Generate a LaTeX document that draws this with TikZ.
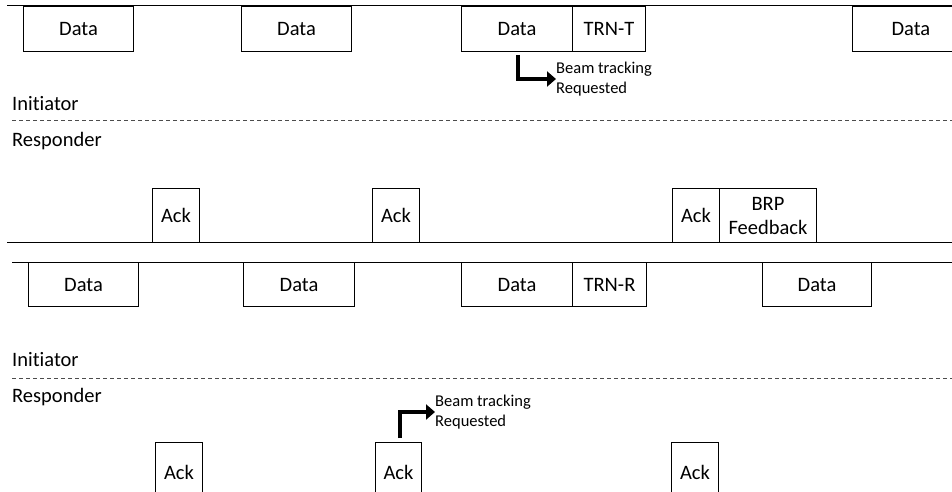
\documentclass[tikz,border=0pt]{standalone}
\usepackage{fontspec}
\setmainfont{Carlito}[Ligatures=NoCommon]
\usetikzlibrary{arrows.meta}
\begin{document}
\begin{tikzpicture}[x=1pt,y=-1pt,
  frame/.style={draw=black,line width=1pt,inner sep=0pt,anchor=north west,font=\fontsize{20.5}{24}\selectfont},
  lbl/.style={anchor=west,inner sep=0pt,font=\fontsize{20.5}{24}\selectfont},
  small/.style={anchor=west,inner sep=0pt,align=left,font=\fontsize{16.5}{19.5}\selectfont},
  axis/.style={line width=1pt},
  sep/.style={line width=0.8pt,dash pattern=on 4pt off 3pt,draw=black!70},
  bigarrow/.style={line width=3.2pt,-{Triangle[length=9pt,width=15pt]}}]
\clip (0,0) rectangle (952,492);
% ---------- top panel ----------
\draw[axis] (7,6) -- (952,6);
\node[frame,minimum width=110pt,minimum height=45pt] (d1) at (23,6) {Data};
\node[frame,minimum width=110pt,minimum height=45pt] (d2) at (241,6) {Data};
\node[frame,minimum width=111pt,minimum height=45pt] (d3) at (461,6) {Data};
\node[frame,minimum width=73pt,minimum height=45pt] (t1) at (572,6) {TRN-T};
\node[frame,minimum width=110pt,minimum height=45pt,text width=100pt,align=left] (d4) at (852,6) {\hspace*{34pt}Data};
\coordinate (a1) at (518,55);
\node[small] (bt1) at (556,79) {Beam tracking\\Requested};
\draw[bigarrow] (a1) |- (bt1.west);
\node[lbl] (i1) at (12,104) {Initiator};
\draw[sep] (12,120) -- (952,120);
\node[lbl] (r1) at (12,141) {Responder};
\node[frame,minimum width=47pt,minimum height=54pt] (k1) at (152,188) {Ack};
\node[frame,minimum width=47pt,minimum height=54pt] (k2) at (372,188) {Ack};
\node[frame,minimum width=47pt,minimum height=54pt] (k3) at (672,188) {Ack};
\node[frame,minimum width=97pt,minimum height=54pt,align=center] (f1) at (719,188) {BRP\\Feedback};
\draw[axis] (7,242) -- (952,242);
% ---------- bottom panel ----------
\draw[axis] (12,262) -- (952,262);
\node[frame,minimum width=110pt,minimum height=44pt] (e1) at (28,262) {Data};
\node[frame,minimum width=111pt,minimum height=44pt] (e2) at (243,262) {Data};
\node[frame,minimum width=111pt,minimum height=44pt] (e3) at (461,262) {Data};
\node[frame,minimum width=74pt,minimum height=44pt] (t2) at (572,262) {TRN-R};
\node[frame,minimum width=109pt,minimum height=44pt] (e4) at (762,262) {Data};
\node[lbl] (i2) at (12,360) {Initiator};
\draw[sep] (12,378) -- (952,378);
\node[lbl] (r2) at (12,397) {Responder};
\node[frame,minimum width=47pt,minimum height=70pt,text depth=10pt] (m1) at (155,442) {Ack};
\node[frame,minimum width=46pt,minimum height=70pt,text depth=10pt] (m2) at (375,442) {Ack};
\node[frame,minimum width=47pt,minimum height=70pt,text depth=10pt] (m3) at (671,442) {Ack};
\coordinate (a2) at (400,438);
\node[small] (bt2) at (435,412) {Beam tracking\\Requested};
\draw[bigarrow] (a2) |- (bt2.west);
\end{tikzpicture}
\end{document}
